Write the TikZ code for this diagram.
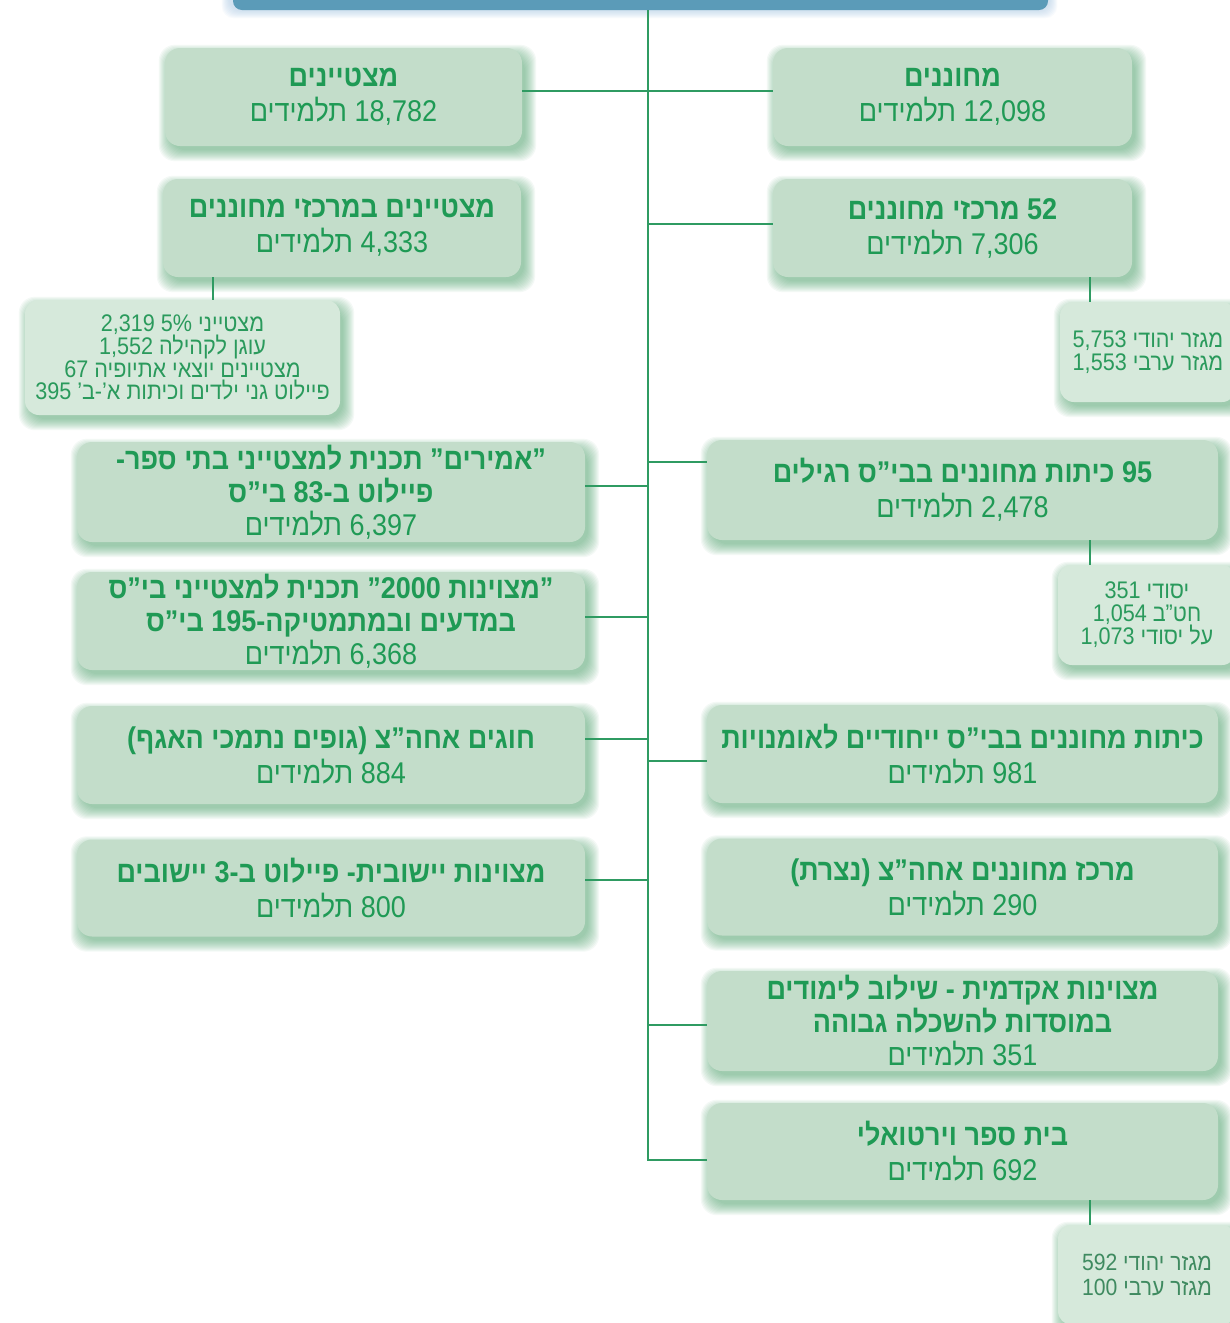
\documentclass[tikz,border=0pt]{standalone}
\usepackage{fontspec}
\newfontfamily\hebfont[Script=Hebrew, FakeStretch=0.9]{Liberation Sans}
\TeXXeTstate=1
\usetikzlibrary{calc}
\pgfdeclarelayer{paper}
\pgfdeclarelayer{bg}
\pgfsetlayers{paper,bg,main}
\newcommand\RL[1]{\beginR#1\endR}
\definecolor{boxfill}{HTML}{C3DDCA}
\definecolor{subfill}{HTML}{D6E9DB}
\definecolor{txtg}{HTML}{1F9A55}
\definecolor{subtxt}{HTML}{2A9A5C}
\definecolor{darksub}{HTML}{3F8A60}
\definecolor{linec}{HTML}{2F9B62}
\definecolor{shc}{HTML}{4CA36C}
\definecolor{barblue}{HTML}{5B9BB8}
\definecolor{barglow}{HTML}{A9C8E6}
\tikzset{
  box/.style={fill=boxfill, rounded corners=15pt, align=center, text=txtg, inner sep=0pt,
    font=\hebfont\fontsize{30}{35}\selectfont},
  tribox/.style={box, font=\hebfont\fontsize{30}{33}\selectfont},
  subbox/.style={fill=subfill, rounded corners=14pt, align=center, text=subtxt, inner sep=0pt,
    font=\hebfont\fontsize{24}{22.5}\selectfont},
  conn/.style={draw=linec, line width=2pt},
  topbar/.style={fill=barblue, rounded corners=9pt, inner sep=0pt, minimum width=815pt, minimum height=20pt},
}
\begin{document}
\begin{tikzpicture}[x=1pt,y=-1pt]
\useasboundingbox (0,0) rectangle (1230,1323);
\begin{pgfonlayer}{paper}
\fill[white] (0,0) rectangle (1230,1323);
\end{pgfonlayer}
\clip (0,0) rectangle (1230,1323);

% top bar
\node[topbar] (bar) at (640.5,0) {};

% left column
\node[box, minimum width=357pt, minimum height=98pt] (L1) at (343.5,97)
  {{\bfseries\RL{מצטיינים}}\\\RL{18,782 תלמידים}};
\node[box, minimum width=358pt, minimum height=98pt] (L2) at (342,228)
  {{\bfseries\RL{מצטיינים במרכזי מחוננים}}\\\RL{4,333 תלמידים}};
\node[subbox, minimum width=315pt, minimum height=115pt] (LS) at (182.5,357.5)
  {\RL{מצטייני 5\% 2,319}\\\RL{עוגן לקהילה 1,552}\\\RL{מצטיינים יוצאי אתיופיה 67}\\\RL{פיילוט גני ילדים וכיתות א’-ב’ 395}};
\node[tribox, minimum width=508pt, minimum height=100pt] (L3) at (331,492)
  {{\bfseries\RL{”אמירים” תכנית למצטייני בתי ספר-}}\\{\bfseries\RL{פיילוט ב-83 בי”ס}}\\\RL{6,397 תלמידים}};
\node[tribox, minimum width=508pt, minimum height=98pt] (L4) at (331,621)
  {{\bfseries\RL{”מצוינות 2000\kern0pt{}” תכנית למצטייני בי”ס}}\\{\bfseries\RL{במדעים ובמתמטיקה-195 בי”ס}}\\\RL{6,368 תלמידים}};
\node[box, minimum width=508pt, minimum height=98pt] (L5) at (331,755)
  {{\bfseries\RL{חוגים אחה”צ (גופים נתמכי האגף)}}\\\RL{884 תלמידים}};
\node[box, minimum width=508pt, minimum height=97pt] (L6) at (331,888)
  {{\bfseries\RL{מצוינות יישובית- פיילוט ב-3 יישובים}}\\\RL{800 תלמידים}};

% right column
\node[box, minimum width=359pt, minimum height=98pt] (R1) at (952.5,97)
  {{\bfseries\RL{מחוננים}}\\\RL{12,098 תלמידים}};
\node[box, minimum width=359pt, minimum height=98pt] (R2) at (952.5,228)
  {{\bfseries\RL{52 מרכזי מחוננים}}\\\RL{7,306 תלמידים}};
\node[subbox, minimum width=176pt, minimum height=100pt] (RS1) at (1148,352)
  {\RL{מגזר יהודי 5,753}\\\RL{מגזר ערבי 1,553}};
\node[box, minimum width=511pt, minimum height=100pt] (R3) at (962.5,490)
  {{\bfseries\RL{95 כיתות מחוננים בבי”ס רגילים}}\\\RL{2,478 תלמידים}};
\node[subbox, minimum width=178pt, minimum height=100pt] (RS2) at (1147,615)
  {\RL{יסודי 351}\\\RL{חט”ב 1,054}\\\RL{על יסודי 1,073}};
\node[box, minimum width=511pt, minimum height=98pt] (R4) at (962.5,754)
  {{\bfseries\RL{כיתות מחוננים בבי”ס ייחודיים לאומנויות}}\\\RL{981 תלמידים}};
\node[box, minimum width=511pt, minimum height=97pt] (R5) at (962.5,887)
  {{\bfseries\RL{מרכז מחוננים אחה”צ (נצרת)}}\\\RL{290 תלמידים}};
\node[tribox, minimum width=511pt, minimum height=100pt] (R6) at (962.5,1021)
  {{\bfseries\RL{מצוינות אקדמית - שילוב לימודים}}\\{\bfseries\RL{במוסדות להשכלה גבוהה}}\\\RL{351 תלמידים}};
\node[box, minimum width=511pt, minimum height=97pt] (R7) at (962.5,1151.5)
  {{\bfseries\RL{בית ספר וירטואלי}}\\\RL{692 תלמידים}};
\node[subbox, text=darksub, minimum width=178pt, minimum height=100pt, font=\hebfont\fontsize{23.5}{25}\selectfont] (RS3) at (1147,1275)
  {\RL{מגזר יהודי 592}\\\RL{מגזר ערבי 100}};

% shadows
\begin{pgfonlayer}{bg}
  \foreach \k in {0,...,7}{
    \fill[barglow, opacity=0.08, rounded corners=12pt] ($(bar.south west)+(-\k-4,\k+1)$) rectangle ($(bar.north east)+(\k+2,-\k)$);
  }
  \foreach \n in {L1,L2,L3,L4,L5,L6,R1,R2,R3,R4,R5,R6,R7,LS,RS1,RS2,RS3}{
    \foreach \k in {0,...,11}{
      \fill[shc, opacity=0.06, rounded corners=16pt] ($(\n.south west)+(5-\k,4+\k)$) rectangle ($(\n.north east)+(3+\k,8-\k)$);
    }
  }
\end{pgfonlayer}

% junction coordinates
\coordinate (cx) at (648,0);
\coordinate (j1) at (648,91);
\coordinate (j2) at (648,224);
\coordinate (j3R) at (648,462);
\coordinate (j3L) at (648,486);
\coordinate (j4L) at (648,617);
\coordinate (j5L) at (648,739);
\coordinate (j4R) at (648,761);
\coordinate (j6L) at (648,880);
\coordinate (j6R) at (648,1025);
\coordinate (j7) at (648,1160);
\coordinate (a1) at (213,0);
\coordinate (a2) at (1090,0);

% connectors
\draw[conn] (bar.south -| cx) -- (j7) -- (R7.west |- j7);
\draw[conn] (L1.east |- j1) -- (R1.west |- j1);
\draw[conn] (j2) -- (R2.west |- j2);
\draw[conn] (j3R) -- (R3.west |- j3R);
\draw[conn] (L3.east |- j3L) -- (j3L);
\draw[conn] (L4.east |- j4L) -- (j4L);
\draw[conn] (L5.east |- j5L) -- (j5L);
\draw[conn] (j4R) -- (R4.west |- j4R);
\draw[conn] (L6.east |- j6L) -- (j6L);
\draw[conn] (j6R) -- (R6.west |- j6R);
\draw[conn] (L2.south -| a1) -- (LS.north -| a1);
\draw[conn] (R2.south -| a2) -- (RS1.north -| a2);
\draw[conn] (R3.south -| a2) -- (RS2.north -| a2);
\draw[conn] (R7.south -| a2) -- (RS3.north -| a2);
\end{tikzpicture}
\end{document}
